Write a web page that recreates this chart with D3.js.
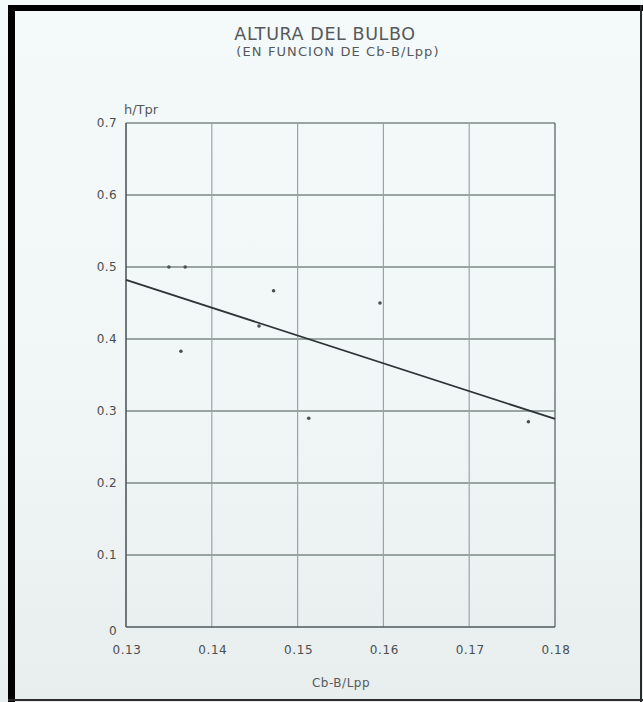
<!DOCTYPE html>
<html>
<head>
<meta charset="utf-8">
<script src="https://cdn.jsdelivr.net/npm/d3@7"></script>
<style>
  html, body { margin: 0; padding: 0; background: #f2f7f8; }
  svg { display: block; }
  text { font-family: "DejaVu Sans", "Liberation Sans", sans-serif; fill: #55595b; }
</style>
</head>
<body>
<svg id="chart" width="643" height="702"></svg>
<script>
// Bulb height ratio h/Tpr against Cb-B/Lpp
const xTicks = [0.13, 0.14, 0.15, 0.16, 0.17, 0.18];
const yTicks = [0, 0.1, 0.2, 0.3, 0.4, 0.5, 0.6, 0.7];
const xTickLabels = ["0.13", "0.14", "0.15", "0.16", "0.17", "0.18"];
const yTickLabels = ["0", "0.1", "0.2", "0.3", "0.4", "0.5", "0.6", "0.7"];

// measured ships
const pointX = [0.1350, 0.1369, 0.1472, 0.1455, 0.1364, 0.1596, 0.1513, 0.1769];
const pointY = [0.500, 0.500, 0.467, 0.418, 0.383, 0.450, 0.290, 0.285];

// fitted trend line (end points)
const fitX = [0.13, 0.18];
const fitY = [0.482, 0.289];

const svg = d3.select("#chart");
const W = 643, H = 702;

// paper background, slightly greyer towards the bottom
const defs = svg.append("defs");
const grad = defs.append("linearGradient").attr("id", "paper").attr("x1", 0).attr("y1", 0).attr("x2", 0).attr("y2", 1);
grad.append("stop").attr("offset", "0%").attr("stop-color", "#f4f9fa");
grad.append("stop").attr("offset", "55%").attr("stop-color", "#f1f6f7");
grad.append("stop").attr("offset", "100%").attr("stop-color", "#e8edee");
svg.append("rect").attr("x", 0).attr("y", 0).attr("width", W).attr("height", H).attr("fill", "url(#paper)");

const x = d3.scaleLinear().domain([0.13, 0.18]).range([126, 555]);
const y = d3.scaleLinear().domain([0, 0.7]).range([627, 123]);

// horizontal grid
svg.append("g").selectAll("line").data(yTicks.slice(1)).join("line")
  .attr("x1", x(0.13)).attr("x2", x(0.18))
  .attr("y1", d => y(d)).attr("y2", d => y(d))
  .attr("stroke", "#7d8a84").attr("stroke-width", 1.4);

// vertical grid
svg.append("g").selectAll("line").data(xTicks.slice(1)).join("line")
  .attr("x1", d => x(d)).attr("x2", d => x(d))
  .attr("y1", y(0)).attr("y2", y(0.7))
  .attr("stroke", d => d === 0.18 ? "#6f7a7c" : "#97a5aa")
  .attr("stroke-width", d => d === 0.18 ? 1.5 : 1.2);

// left and bottom axis lines
svg.append("line").attr("x1", x(0.13)).attr("x2", x(0.13)).attr("y1", y(0)).attr("y2", y(0.7))
  .attr("stroke", "#4f5a5e").attr("stroke-width", 1.6);
svg.append("line").attr("x1", x(0.13)).attr("x2", x(0.18)).attr("y1", y(0)).attr("y2", y(0))
  .attr("stroke", "#4f5a5e").attr("stroke-width", 1.6);

// y tick labels
svg.append("g").selectAll("text").data(yTicks).join("text")
  .attr("x", 117).attr("y", (d, i) => y(d) + (i === 0 ? 4 : 0))
  .attr("dy", "0.35em").attr("text-anchor", "end")
  .attr("font-size", 12).attr("letter-spacing", 0.4)
  .style("fill", "#4a4e50").text((d, i) => yTickLabels[i]);

// x tick labels
svg.append("g").selectAll("text").data(xTicks).join("text")
  .attr("x", d => x(d) + 1).attr("y", 650)
  .attr("dy", "0.35em").attr("text-anchor", "middle")
  .attr("font-size", 12).attr("letter-spacing", 0.6)
  .style("fill", "#4a4e50").text((d, i) => xTickLabels[i]);

// axis titles
svg.append("text").attr("x", 124).attr("y", 114).attr("font-size", 13).text("h/Tpr");
svg.append("text").attr("x", 341).attr("y", 687).attr("text-anchor", "middle")
  .attr("font-size", 12).attr("letter-spacing", 0.5).text("Cb-B/Lpp");

// chart title
svg.append("text").attr("x", 325).attr("y", 40).attr("text-anchor", "middle")
  .attr("font-size", 17.5).attr("letter-spacing", 0.6).text("ALTURA DEL BULBO");
svg.append("text").attr("x", 338).attr("y", 56).attr("text-anchor", "middle")
  .attr("font-size", 13).attr("letter-spacing", 1.1).text("(EN FUNCION DE Cb-B/Lpp)");

// trend line
svg.append("line")
  .attr("x1", x(fitX[0])).attr("y1", y(fitY[0]))
  .attr("x2", x(fitX[1])).attr("y2", y(fitY[1]))
  .attr("stroke", "#2e3436").attr("stroke-width", 1.8);

// data points
svg.append("g").selectAll("circle").data(pointX).join("circle")
  .attr("cx", d => x(d)).attr("cy", (d, i) => y(pointY[i]))
  .attr("r", 1.8).attr("fill", "#4a4f52");

// black page border
svg.append("rect").attr("x", 8).attr("y", 5).attr("width", W - 8).attr("height", 6).attr("fill", "#000");
svg.append("rect").attr("x", 8).attr("y", 5).attr("width", 7).attr("height", H - 5).attr("fill", "#000");
svg.append("rect").attr("x", 8).attr("y", 699).attr("width", W - 8).attr("height", 2).attr("fill", "#2a2a2a");
svg.append("rect").attr("x", 640).attr("y", 5).attr("width", 2).attr("height", H - 5).attr("fill", "#2a2a2a");
</script>
</body>
</html>
